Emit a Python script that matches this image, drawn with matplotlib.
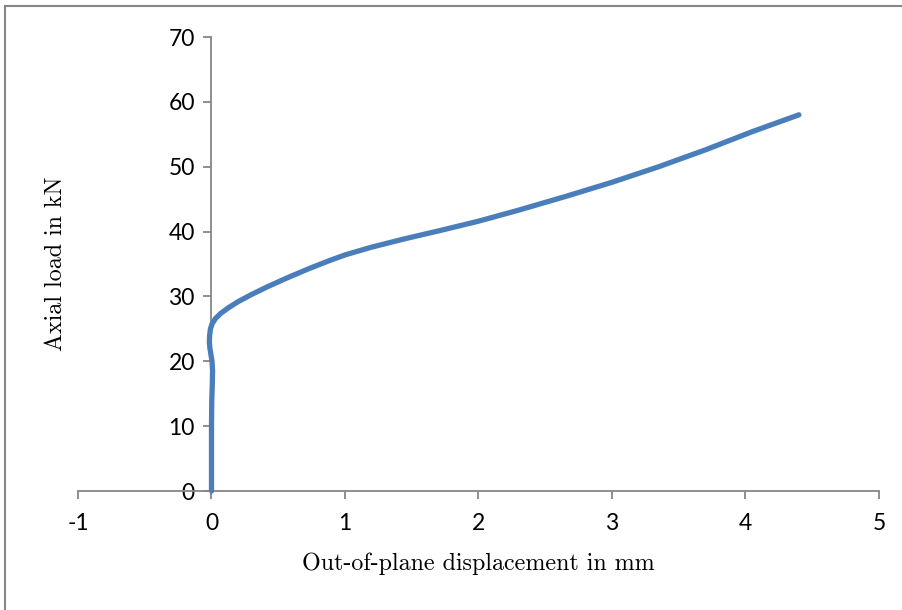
import matplotlib
matplotlib.use("Agg")
import matplotlib.pyplot as plt
from matplotlib.patches import Rectangle

# out-of-plane displacement (mm) vs axial load (kN)
desplazamiento = [0.0, 0.0, 0.0, 0.002, 0.006, 0.008, 0.004, -0.004, -0.012, -0.016, -0.014,
                  -0.008, 0.005, 0.03, 0.07, 0.13, 0.2, 0.3, 0.42, 0.56, 0.72, 0.88,
                  1.0, 1.2, 1.45, 1.7, 2.0, 2.3, 2.65, 3.0, 3.35, 3.7, 4.05, 4.4]
carga = [0.0, 5.0, 10.0, 14.0, 16.5, 18.5, 20.0, 21.0, 22.0, 23.0, 24.0,
         25.0, 25.8, 26.6, 27.4, 28.3, 29.2, 30.3, 31.5, 32.8, 34.2, 35.5,
         36.4, 37.6, 38.9, 40.1, 41.6, 43.3, 45.4, 47.6, 50.0, 52.6, 55.4, 58.0]

x_ticks = [-1, 0, 1, 2, 3, 4, 5]
y_ticks = [0, 10, 20, 30, 40, 50, 60, 70]

gris = "#868686"
azul = "#4A7EBB"

fig = plt.figure(figsize=(9.03, 6.10), dpi=100)
ax = fig.add_axes([78 / 903, 1 - 491 / 610, (879 - 78) / 903, (491 - 37) / 610])

ax.plot(desplazamiento, carga, color=azul, lw=3.8, solid_capstyle="round",
        solid_joinstyle="round", zorder=3, clip_on=False)

ax.set_xlim(-1, 5)
ax.set_ylim(0, 70)
ax.set_xticks(x_ticks)
ax.set_yticks(y_ticks)
ax.set_xticklabels([str(v) for v in x_ticks])
ax.set_yticklabels([str(v) for v in y_ticks])

# y axis crosses at x = 0
ax.spines["left"].set_position(("data", 0))
ax.spines["top"].set_visible(False)
ax.spines["right"].set_visible(False)
for s in ("left", "bottom"):
    ax.spines[s].set_color(gris)
    ax.spines[s].set_linewidth(1.3)
ax.tick_params(axis="both", direction="out", length=6, width=1.3, color=gris,
               labelsize=16.5, labelcolor="black")
ax.tick_params(axis="x", pad=10)
ax.tick_params(axis="y", pad=6)
for lbl in ax.get_xticklabels() + ax.get_yticklabels():
    lbl.set_fontfamily("Lato")

fig.text(478 / 903, 1 - 564 / 610, "Out-of-plane displacement in mm",
         fontname="cmr10", fontsize=17.3, ha="center", va="center")
fig.text(56 / 903, 1 - 264 / 610, "Axial load in kN", fontname="cmr10",
         fontsize=17.3, ha="center", va="center", rotation=90)

# chart border like the Excel frame (right and bottom edges fall outside)
fig.patches.append(Rectangle((5 / 903, -0.05), 1.2, 1 - 6 / 610 + 0.05,
                             transform=fig.transFigure, fill=False,
                             edgecolor=gris, lw=1.5))

fig.savefig("out.png", dpi=100)
